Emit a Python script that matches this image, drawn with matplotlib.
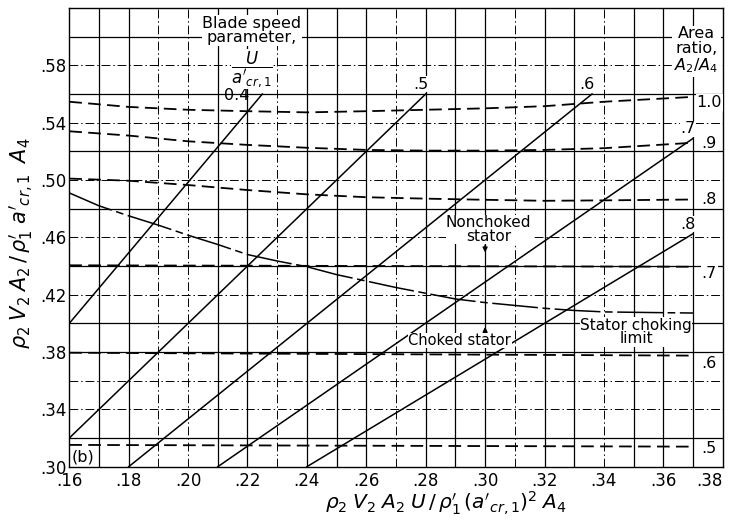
import numpy as np
import matplotlib.pyplot as plt

plt.rcParams['font.family'] = 'DejaVu Sans'
plt.rcParams['mathtext.fontset'] = 'dejavusans'

# blade speed parameter lines U/a'cr,1 (straight, read at their ends)
bs_labels = ['0.4', '.5', '.6', '.7', '.8']
bs_x0 = [0.16, 0.16, 0.18, 0.21, 0.24]
bs_x1 = [0.225, 0.28, 0.336, 0.37, 0.37]
bs_y0 = [0.40, 0.32, 0.30, 0.30, 0.30]
bs_y1 = [0.56, 0.56, 0.56, 0.529, 0.4625]

# area ratio A2/A4 curves (dashed)
ar_x = [0.16, 0.18, 0.20, 0.22, 0.24, 0.26, 0.28, 0.30, 0.32, 0.34, 0.37]
ar_10 = [0.5546, 0.551, 0.549, 0.548, 0.5472, 0.548, 0.549, 0.550, 0.5515, 0.5546, 0.558]
ar_09 = [0.534, 0.531, 0.527, 0.5245, 0.5225, 0.521, 0.5205, 0.5205, 0.521, 0.5222, 0.526]
ar_08 = [0.501, 0.4995, 0.4965, 0.493, 0.490, 0.488, 0.487, 0.4862, 0.4855, 0.4858, 0.4864]
ar_flat_x = [0.16, 0.37]
ar_07 = [0.4405, 0.4395]
ar_06 = [0.3795, 0.3775]
ar_05 = [0.3152, 0.314]
ar_labels = ['1.0', '.9', '.8', '.7', '.6', '.5']
ar_label_y = [0.5540, 0.5257, 0.4861, 0.435, 0.3722, 0.3128]

# stator choking limit
ch_x = [0.16, 0.17, 0.18, 0.19, 0.20, 0.21, 0.22, 0.23, 0.24, 0.25, 0.26,
        0.27, 0.28, 0.29, 0.30, 0.31, 0.32, 0.33, 0.34, 0.35, 0.37]
ch_y = [0.491, 0.482, 0.475, 0.4685, 0.4615, 0.455, 0.448, 0.4435, 0.4395, 0.434, 0.4295,
        0.425, 0.421, 0.417, 0.4145, 0.4125, 0.4105, 0.409, 0.408, 0.4077, 0.4072]

x_ticks = [0.16, 0.18, 0.20, 0.22, 0.24, 0.26, 0.28, 0.30, 0.32, 0.34, 0.36, 0.38]
y_ticks = [0.30, 0.34, 0.38, 0.42, 0.46, 0.50, 0.54, 0.58]

fig = plt.figure(figsize=(7.31, 5.21), dpi=100)
ax = fig.add_axes([69.3 / 731, 54.3 / 521, 653.4 / 731, 458.7 / 521])
ax.set_xlim(0.16, 0.38)
ax.set_ylim(0.30, 0.62)

# graph paper grid, some lines printed broken
dashdot_x = [0.19, 0.20, 0.23, 0.27, 0.31, 0.34]
dashdot_y = [0.34, 0.36, 0.42, 0.46, 0.50, 0.54, 0.58]
for gx in np.arange(0.17, 0.375, 0.01):
    gx = round(gx, 2)
    if gx in dashdot_x:
        ax.axvline(gx, color='k', lw=0.7, ls=(0, (9, 3, 1.5, 3)), zorder=1)
    else:
        ax.axvline(gx, color='k', lw=0.9, zorder=1)
for gy in np.arange(0.32, 0.615, 0.02):
    gy = round(gy, 2)
    if gy in dashdot_y:
        ax.axhline(gy, color='k', lw=0.7, ls=(0, (9, 3, 1.5, 3)), zorder=1)
    else:
        ax.axhline(gy, color='k', lw=0.9, zorder=1)

# blade speed lines
for lab, x0, x1, y0, y1 in zip(bs_labels, bs_x0, bs_x1, bs_y0, bs_y1):
    ax.plot([x0, x1], [y0, y1], color='k', lw=1.1, zorder=3)
    if lab == '0.4':
        ax.text(x1 - 0.0045, y1 - 0.0065, lab, fontsize=11.5, ha='right', va='bottom', zorder=4)
    else:
        ax.text(x1 + 0.001, y1 + 0.0015, lab, fontsize=11.5, ha='right', va='bottom', zorder=4,
                bbox=dict(facecolor='white', edgecolor='none', pad=0.3))

# area ratio curves
dash = (0, (7, 3.5))
for ys in [ar_10, ar_09, ar_08]:
    ax.plot(ar_x, ys, color='k', lw=1.3, ls=dash, zorder=3)
for ys in [ar_07, ar_06, ar_05]:
    ax.plot(ar_flat_x, ys, color='k', lw=1.3, ls=dash, zorder=3)
for lab, yl in zip(ar_labels, ar_label_y):
    ax.text(0.3755, yl, lab, fontsize=11.5, ha='center', va='center', zorder=4,
            bbox=dict(facecolor='white', edgecolor='none', pad=0.5))

# choking limit
ax.plot(ch_x, ch_y, color='k', lw=1.1, ls=(0, (30, 3, 5, 3)), zorder=3)

# annotations
white = dict(facecolor='white', edgecolor='none', pad=0.5)
ax.text(0.2215, 0.6045, 'Blade speed\nparameter,', fontsize=11.5, ha='center', va='center',
        linespacing=0.95, zorder=4, bbox=white)
ax.text(0.2215, 0.5775, r"$\dfrac{U}{a'_{cr,1}}$", fontsize=12, ha='center', va='center',
        zorder=4, bbox=dict(facecolor='white', edgecolor='none', pad=0.0))
ax.text(0.3712, 0.5905, 'Area\nratio,\n' + r'$A_2/A_4$', fontsize=11.5, ha='center',
        va='center', linespacing=1.0, zorder=4,
        bbox=dict(facecolor='white', edgecolor='none', pad=1.5))
ax.text(0.3012, 0.4655, 'Nonchoked\nstator', fontsize=11, ha='center', va='center',
        linespacing=0.85, zorder=4, bbox=dict(facecolor='white', edgecolor='none', pad=0.2))
ax.text(0.2915, 0.388, 'Choked stator', fontsize=10.5, ha='center', va='center',
        zorder=4, bbox=dict(facecolor='white', edgecolor='none', pad=0.2))
ax.text(0.3508, 0.394, 'Stator choking\nlimit', fontsize=11, ha='center', va='center',
        linespacing=0.9, zorder=4, bbox=dict(facecolor='white', edgecolor='none', pad=0.2))
ax.annotate('', xy=(0.30, 0.4475), xytext=(0.30, 0.4565),
            arrowprops=dict(arrowstyle='-|>', color='k', lw=1.0, mutation_scale=7), zorder=4)
ax.annotate('', xy=(0.30, 0.3995), xytext=(0.30, 0.3925),
            arrowprops=dict(arrowstyle='-|>', color='k', lw=1.0, mutation_scale=7), zorder=4)
ax.text(0.1647, 0.307, '(b)', fontsize=11.5, ha='center', va='center', zorder=4,
        bbox=dict(facecolor='white', edgecolor='none', pad=0.2))

ax.set_xticks(x_ticks)
ax.set_xticklabels([f'{v:.2f}'[1:] for v in x_ticks])
ax.get_xticklabels()[-1].set_ha('right')
ax.set_yticks(y_ticks)
ax.set_yticklabels([f'{v:.2f}'[1:] for v in y_ticks])
ax.tick_params(length=0, labelsize=12, pad=2)
ax.tick_params(axis='x', pad=4)
for sp in ax.spines.values():
    sp.set_linewidth(1.0)

fig.text(446 / 731, 1 - 503 / 521,
         r"$\rho_2\;V_2\;A_2\;U\,/\,\rho_1'\,(a'_{cr,1})^2\;A_4$", fontsize=14.5,
         ha='center', va='center')
fig.text(21 / 731, 1 - 243 / 521,
         r"$\rho_2\;V_2\;A_2\,/\,\rho_1'\;a'_{cr,1}\;\;A_4$", fontsize=15,
         ha='center', va='center', rotation=90)

fig.savefig('out.png', dpi=100)
